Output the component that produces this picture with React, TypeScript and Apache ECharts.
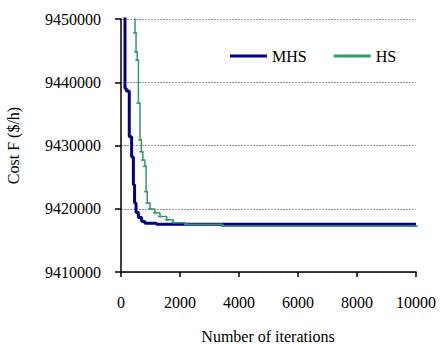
import React, { useEffect, useRef } from "react";
import * as echarts from "echarts";

const mhsIter = [0, 135, 180, 280, 360, 420, 460, 510, 590, 700, 810, 1200, 10000];
const mhsCost = [9600000, 9439000, 9438600, 9431400, 9428200, 9423800, 9420900, 9419400, 9418600, 9418000, 9417700, 9417550, 9417550];

const hsIter = [0, 475, 510, 550, 590, 645, 690, 740, 810, 850, 890, 985, 1150, 1320, 1550, 1770, 2200, 3450, 10000];
const hsCost = [9600000, 9447800, 9444800, 9443500, 9436700, 9430900, 9429000, 9427700, 9426700, 9422700, 9420900, 9419950, 9419350, 9418770, 9418250, 9417800, 9417550, 9417250, 9417250];

const xTicks = [0, 2000, 4000, 6000, 8000, 10000];
const yTicks = [9410000, 9420000, 9430000, 9440000, 9450000];
const xAxisTitle = "Number of iterations";

const FONT = "Liberation Serif";

export default function App() {
  const ref = useRef<HTMLDivElement>(null);
  useEffect(() => {
    if (!ref.current) return;
    const chart = echarts.init(ref.current, undefined, { renderer: "svg" });
    chart.setOption({
      animation: false,
      backgroundColor: "#fff",
      textStyle: { fontFamily: FONT, color: "#000" },
      grid: { left: 121, right: 24, top: 19, bottom: 72, containLabel: false, outerBoundsMode: "none" },
      legend: {
        left: 225,
        top: 43,
        itemWidth: 37,
        itemHeight: 3,
        itemGap: 27,
        textStyle: { fontFamily: FONT, fontSize: 16, color: "#000" },
        data: [
          { name: "MHS", icon: "rect" },
          { name: "HS", icon: "rect" },
        ],
      },
      graphic: [
        {
          type: "text",
          x: 268,
          y: 336,
          style: {
            text: xAxisTitle,
            fontFamily: FONT,
            fontSize: 16,
            fill: "#000",
            align: "center",
            verticalAlign: "middle",
          },
        },
      ],
      xAxis: {
        type: "value",
        min: xTicks[0],
        max: xTicks[xTicks.length - 1],
        interval: 2000,
        axisLine: { show: true, lineStyle: { color: "#000", width: 1.5 } },
        axisTick: { show: true, length: 5, lineStyle: { color: "#000", width: 1.5 } },
        axisLabel: {
          fontFamily: FONT,
          fontSize: 16,
          color: "#000",
          margin: 22,
          formatter: (v: number) => String(v),
        },
        splitLine: { show: false },
      },
      yAxis: {
        type: "value",
        min: yTicks[0],
        max: yTicks[yTicks.length - 1],
        interval: 10000,
        name: "Cost F ($/h)",
        nameLocation: "middle",
        nameGap: 100,
        nameMoveOverlap: false,
        nameTextStyle: { fontFamily: FONT, fontSize: 16, color: "#000" },
        axisLine: { show: true, lineStyle: { color: "#000", width: 1.5 } },
        axisTick: { show: true, length: 6, lineStyle: { color: "#000", width: 1.5 } },
        axisLabel: {
          fontFamily: FONT,
          fontSize: 16,
          color: "#000",
          margin: 20,
          formatter: (v: number) => String(v),
        },
        splitLine: { show: true, lineStyle: { color: "#999", type: [2, 1], width: 1 } },
      },
      series: [
        {
          name: "MHS",
          type: "line",
          step: "end",
          data: mhsIter.map((x, i) => [x, mhsCost[i]]),
          showSymbol: false,
          symbol: "none",
          color: "#000080",
          lineStyle: { color: "#000080", width: 3 },
          clip: true,
          z: 2,
        },
        {
          name: "HS",
          type: "line",
          step: "end",
          data: hsIter.map((x, i) => [x, hsCost[i]]),
          showSymbol: true,
          symbol: "rect",
          symbolSize: [4, 1.5],
          color: "#339966",
          itemStyle: { color: "#339966" },
          lineStyle: { color: "#339966", width: 1.5 },
          clip: true,
          z: 3,
        },
      ],
    });
    return () => chart.dispose();
  }, []);
  return <div ref={ref} style={{ width: 440, height: 344, position: "absolute", left: 0, top: 0 }} />;
}
